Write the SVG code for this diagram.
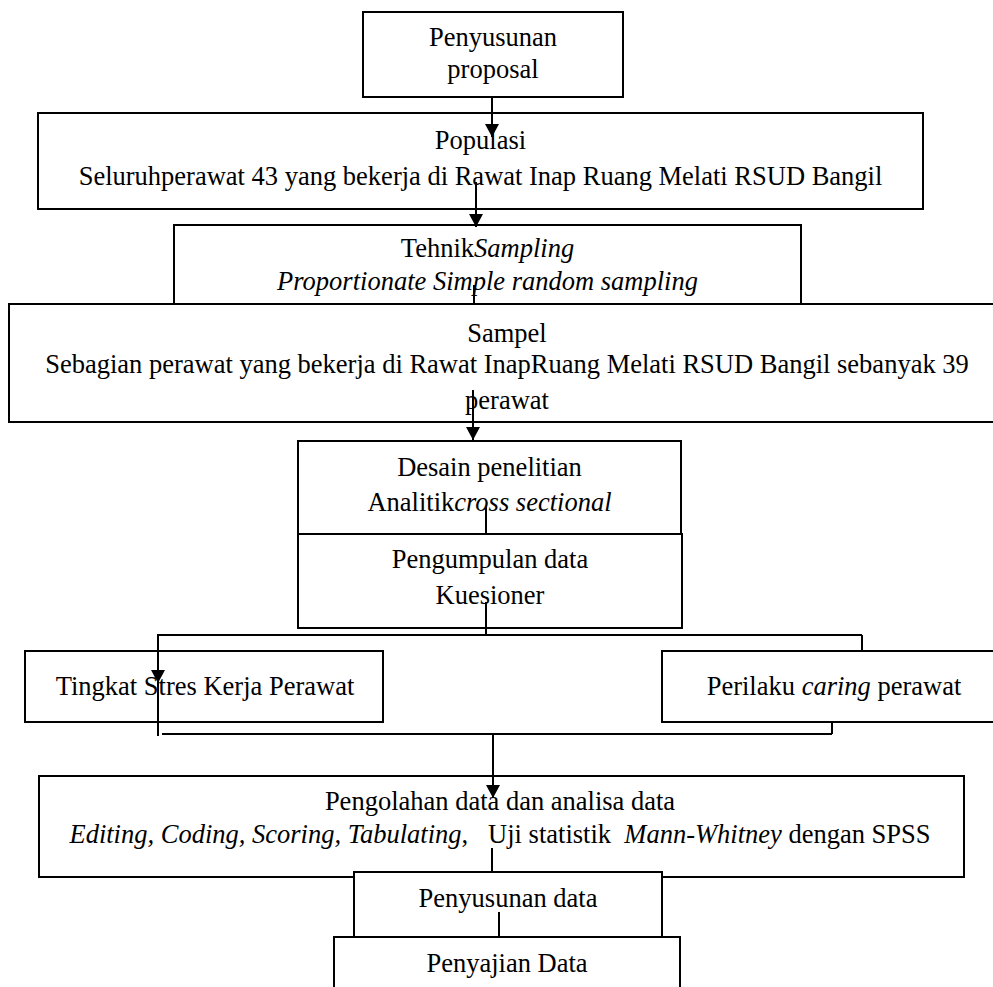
<svg xmlns="http://www.w3.org/2000/svg" width="993" height="987" viewBox="0 0 993 987">
<defs>
<style>
.box{fill:#fff;stroke:#000;stroke-width:2}
.t{font-family:"Liberation Serif","Times New Roman",serif;font-size:26.5px;fill:#000;text-anchor:middle}
.i{font-style:italic}
.c{stroke:#000;stroke-width:2;fill:none}
.a{marker-end:url(#ah)}
</style>
<marker id="ah" viewBox="0 0 13 14" refX="13" refY="7" markerWidth="13" markerHeight="14" markerUnits="userSpaceOnUse" orient="auto">
<path d="M0,0 L13,7 L0,14 z" fill="#000"/>
</marker>
</defs>
<rect width="993" height="987" fill="#fff"/>
<g id="n-proposal">
<rect class="box" x="363" y="12" width="260" height="85"/>
<text class="t" x="493" y="46">Penyusunan</text>
<text class="t" x="493" y="78">proposal</text>
</g>
<g id="n-populasi">
<rect class="box" x="38" y="113" width="885" height="96"/>
<text class="t" x="480.5" y="149">Populasi</text>
<text class="t" x="480.5" y="185">Seluruhperawat 43 yang bekerja di Rawat Inap Ruang Melati RSUD Bangil</text>
</g>
<g id="n-tehnik">
<rect class="box" x="174" y="225" width="627" height="90"/>
<text class="t" x="487.5" y="257">Tehnik<tspan class="i">Sampling</tspan></text>
<text class="t i" x="487.5" y="290">Proportionate Simple random sampling</text>
</g>
<g id="n-sampel">
<rect class="box" x="9" y="304" width="1000" height="118"/>
<text class="t" x="507" y="342">Sampel</text>
<text class="t" x="507" y="373">Sebagian perawat yang bekerja di Rawat InapRuang Melati RSUD Bangil sebanyak 39</text>
<text class="t" x="507" y="409">perawat</text>
</g>
<g id="n-desain">
<rect class="box" x="298" y="441" width="383" height="93"/>
<text class="t" x="489.5" y="476">Desain penelitian</text>
<text class="t" x="489.5" y="511">Analitik<tspan class="i">cross sectional</tspan></text>
</g>
<g id="n-pengumpulan">
<rect class="box" x="298" y="534" width="384" height="94"/>
<text class="t" x="490" y="568">Pengumpulan data</text>
<text class="t" x="490" y="604">Kuesioner</text>
</g>
<g id="n-stres">
<rect class="box" x="25" y="651" width="358" height="71"/>
<text class="t" x="205" y="695">Tingkat Stres Kerja Perawat</text>
</g>
<g id="n-caring">
<rect class="box" x="662" y="651" width="346" height="71"/>
<text class="t" x="834" y="695">Perilaku <tspan class="i">caring</tspan> perawat</text>
</g>
<g id="n-pengolahan">
<rect class="box" x="39" y="776" width="925" height="101"/>
<text class="t" x="500" y="810">Pengolahan data dan analisa data</text>
<text class="t" x="500" y="843" style="white-space:pre"><tspan class="i">Editing, Coding, Scoring, Tabulating</tspan>,   Uji statistik  <tspan class="i">Mann-Whitney</tspan> dengan SPSS</text>
</g>
<g id="n-penyusunan-data">
<rect class="box" x="354" y="872" width="308" height="65"/>
<text class="t" x="508" y="907">Penyusunan data</text>
</g>
<g id="n-penyajian">
<rect class="box" x="334" y="937" width="346" height="70"/>
<text class="t" x="507" y="972">Penyajian Data</text>
</g>
<g id="connectors">
<line class="c a" x1="492" y1="97" x2="492" y2="137"/>
<line class="c a" x1="476" y1="182" x2="476" y2="227"/>
<line class="c" x1="474" y1="285" x2="474" y2="304"/>
<line class="c a" x1="473" y1="390" x2="473" y2="440"/>
<line class="c" x1="486" y1="507" x2="486" y2="534"/>
<line class="c" x1="486" y1="602" x2="486" y2="635"/>
<line class="c" x1="157" y1="635" x2="862" y2="635"/>
<line class="c a" x1="158" y1="635" x2="158" y2="683"/>
<line class="c" x1="862" y1="635" x2="862" y2="651"/>
<line class="c" x1="158" y1="683" x2="158" y2="736"/>
<line class="c" x1="162" y1="734" x2="832" y2="734"/>
<line class="c" x1="832" y1="722" x2="832" y2="734"/>
<line class="c a" x1="493" y1="734" x2="493" y2="798"/>
<line class="c" x1="492" y1="848" x2="492" y2="872"/>
<line class="c" x1="499" y1="912" x2="499" y2="937"/>
</g>
</svg>
